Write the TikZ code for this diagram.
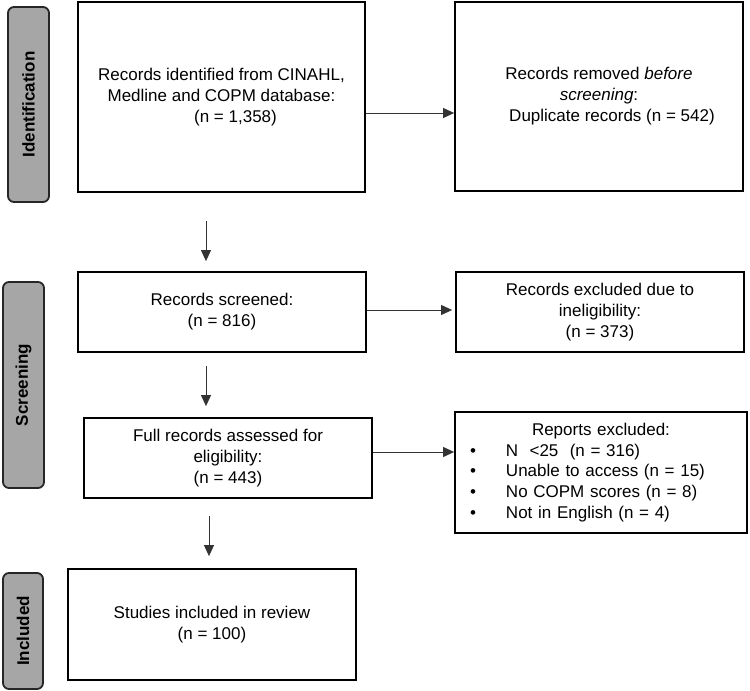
\documentclass[tikz,border=0pt]{standalone}
\usepackage{fontspec}
\setmainfont{Liberation Sans}
\usetikzlibrary{arrows.meta}
\begin{document}
\begin{tikzpicture}[x=1pt,y=-1pt,
  box/.style={draw=black, line width=1.8pt, fill=white, inner sep=0pt, align=center,
    font=\fontsize{17}{21}\selectfont},
  pill/.style={draw=black!85, line width=1.8pt, fill=black!35, rounded corners=6pt,
    inner sep=0pt, rotate=90, font=\bfseries\fontsize{17}{20}\selectfont},
  arr/.style={-{Triangle[length=11pt,width=10pt]}, line width=1pt, draw=black!80}]
\useasboundingbox (0,0) rectangle (750,691);

% phase labels
\node[pill, minimum width=195pt, minimum height=41pt] (pid) at (28.5,104.5) {Identification};
\node[pill, minimum width=206pt, minimum height=41pt] (pscr) at (23.5,385) {Screening};
\node[pill, minimum width=116pt, minimum height=40pt] (pinc) at (23,631) {Included};

% boxes
\node[box, minimum width=287pt, minimum height=190pt] (b1) at (221.5,97)
  {Records identified from CINAHL,\\ Medline and COPM database:\\ \hspace*{28pt}(n = 1,358)};
\node[box, minimum width=288pt, minimum height=189pt] (b2) at (599,96.5)
  {Records removed \textit{before}\\ \textit{screening}:\\ \hspace*{26pt}Duplicate records (n = 542)};
\node[box, minimum width=288pt, minimum height=80pt] (b3) at (222,312)
  {Records screened:\\ (n = 816)};
\node[box, minimum width=288pt, minimum height=80pt] (b4) at (600,312)
  {Records excluded due to\\ ineligibility:\\ (n = 373)};
\node[box, minimum width=288pt, minimum height=80pt] (b5) at (228,458)
  {Full records assessed for\\ eligibility:\\ (n = 443)};
\node[box, minimum width=292pt, minimum height=121pt, text width=292pt, align=left,
  font=\fontsize{17}{20.8}\selectfont] (b6) at (601,472.5)
  {\makebox[292pt]{Reports excluded:}\\
   \hspace*{15pt}\makebox[36pt][l]{\textbullet}N\ \ <25\ \ (n = 316)\\
   \hspace*{15pt}\makebox[36pt][l]{\textbullet}Unable to access (n = 15)\\
   \hspace*{15pt}\makebox[36pt][l]{\textbullet}No COPM scores (n = 8)\\
   \hspace*{15pt}\makebox[36pt][l]{\textbullet}Not in English (n = 4)};
\node[box, minimum width=288pt, minimum height=111pt] (b7) at (212,624.5)
  {Studies included in review\\ (n = 100)};

% connectors
\draw[arr] ([yshift=-16pt]b1.east) -- ([yshift=-16.5pt]b2.west);
\draw[arr] ([yshift=2pt]b3.east) -- ([yshift=2pt,xshift=-3pt]b4.west);
\draw[arr] ([yshift=6pt]b5.east) -- ([yshift=20.5pt]b6.west);

\coordinate (d1s) at ([xshift=-15.5pt,yshift=-28pt]b1.south);
\coordinate (d1e) at ([xshift=-16pt,yshift=10pt]b3.north);
\draw[arr] (d1s) -- (d1e);
\coordinate (d2s) at ([xshift=-16pt,yshift=-13pt]b3.south);
\coordinate (d2e) at ([xshift=-22pt,yshift=11pt]b5.north);
\draw[arr] (d2s) -- (d2e);
\coordinate (d3s) at ([xshift=-19pt,yshift=-17pt]b5.south);
\coordinate (d3e) at ([xshift=-3pt,yshift=12pt]b7.north);
\draw[arr] (d3s) -- (d3e);
\end{tikzpicture}
\end{document}
